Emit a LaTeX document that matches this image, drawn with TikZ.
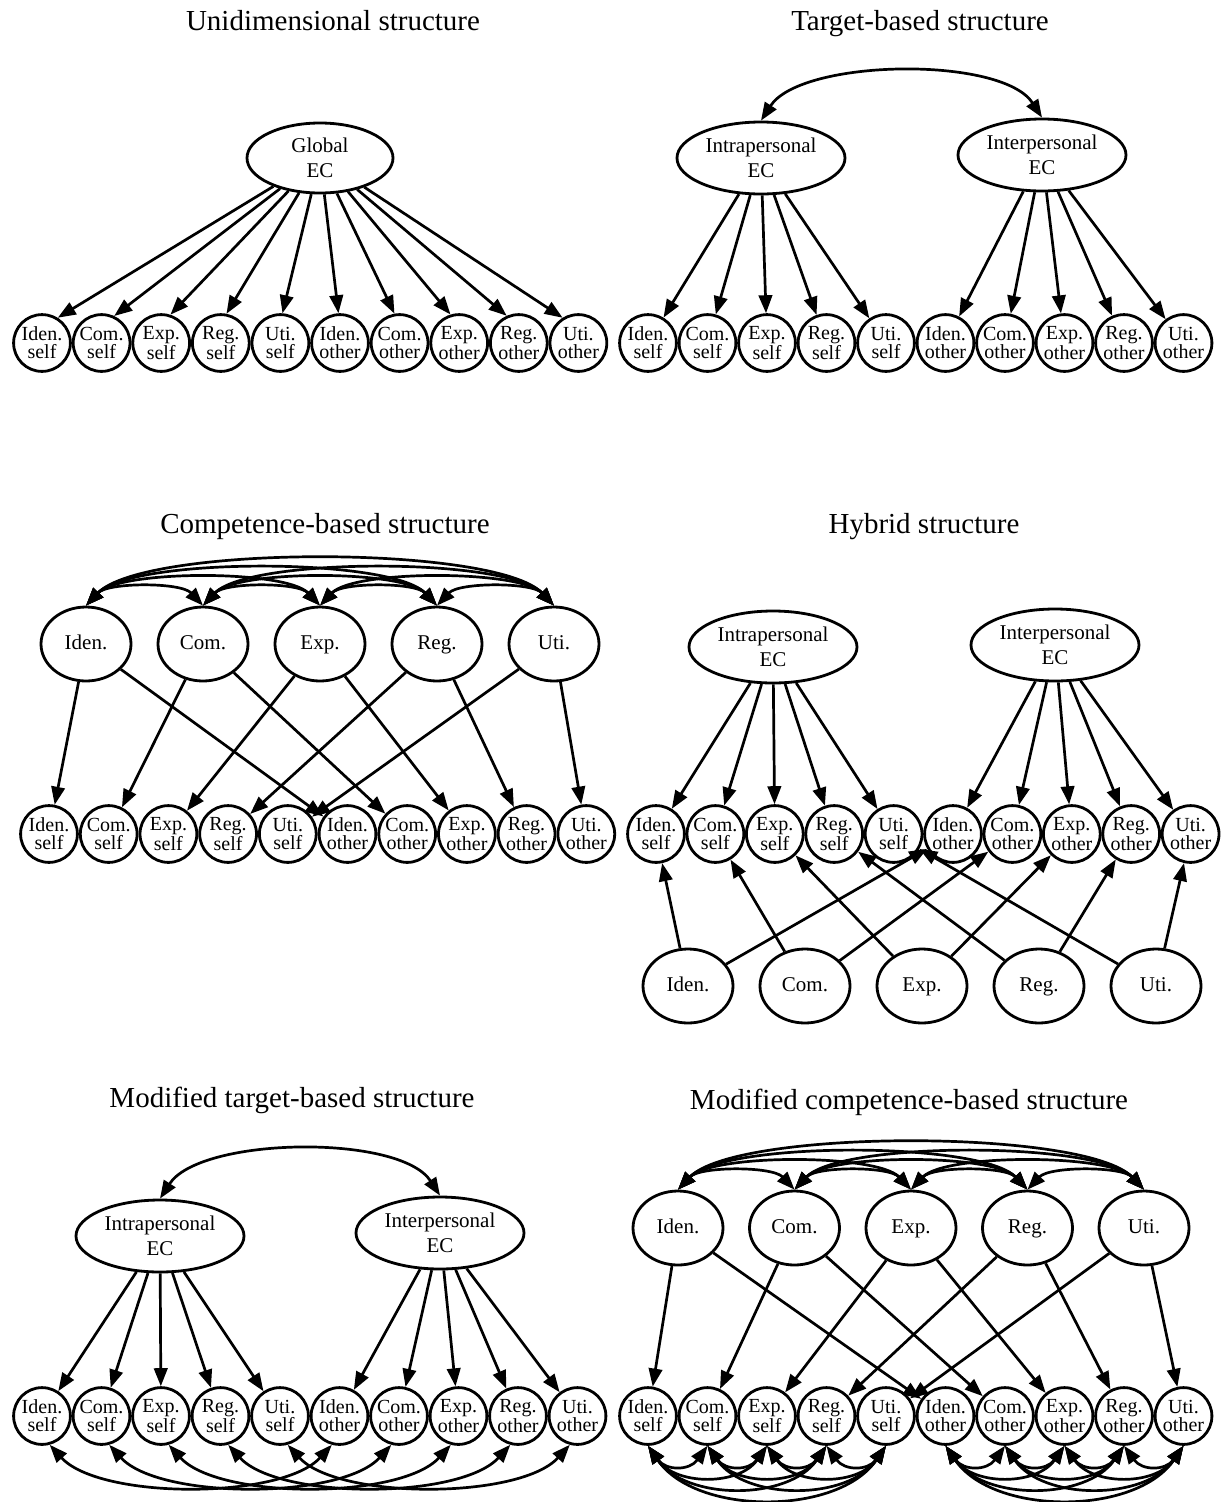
\documentclass[tikz,border=0pt]{standalone}
\usepackage{fontspec}
\setmainfont{Liberation Serif}
\usetikzlibrary{arrows.meta,shapes.geometric,calc}

\newcommand\ttlfont{\fontsize{29}{34}\selectfont}
\newcommand\latfont{\fontsize{21}{25}\selectfont}
\newcommand\indfont{\fontsize{20}{18}\selectfont}

% a row of ten indicators: five "self" then five "other"
\newcommand\indrow[4]{% #1 prefix, #2 first x, #3 y, #4 step
  \foreach \lab [count=\i] in {Iden.,Com.,Exp.,Reg.,Uti.}{%
    \node[ind] (#1s\i) at ({#2+(\i-1)*#4},#3) {\lab\\self};
    \node[ind] (#1o\i) at ({#2+(\i+4)*#4},#3) {\lab\\other};
  }}

% covariances between every pair of five factors, above them
\newcommand\covarcs[1]{%
  \foreach \i in {1,...,4}{%
    \pgfmathtruncatemacro\ia{\i+1}%
    \foreach \j in {\ia,...,5}{%
      \pgfmathsetmacro\hh{11+12.5*(\j-\i)}%
      \pgfmathsetmacro\dd{10+12*(\j-\i)}%
      \draw[cov] (#1\i.north) .. controls +(\dd,-\hh) and +(-\dd,-\hh) .. (#1\j.north);
    }}}

% residual covariances between every pair of five indicators, below them
\newcommand\botarcs[1]{%
  \foreach \i in {1,...,4}{%
    \pgfmathtruncatemacro\ia{\i+1}%
    \foreach \j in {\ia,...,5}{%
      \pgfmathsetmacro\hh{10+15*(\j-\i)}%
      \pgfmathsetmacro\dd{8+10*(\j-\i)}%
      \draw[cov] (#1\i.south) .. controls +(\dd,\hh) and +(-\dd,\hh) .. (#1\j.south);
    }}}

\begin{document}
\begin{tikzpicture}[x=1pt,y=-1pt,
  ttl/.style={font=\ttlfont, inner sep=0pt, anchor=base},
  oval/.style={ellipse, draw, line width=2.8pt, inner sep=0pt, font=\latfont},
  lat/.style={oval, minimum width=90pt, minimum height=74pt, text height=14pt, text depth=4pt},
  big/.style={oval, minimum width=168pt, minimum height=72pt, align=center},
  ind/.style={circle, draw, line width=2.8pt, minimum size=56.8pt, inner sep=0pt, align=center, font=\indfont},
  arr/.style={line width=2.7pt, -{Triangle[length=18pt,width=13.5pt]}},
  cov/.style={line width=2.7pt, {Triangle[length=18pt,width=13.5pt]}-{Triangle[length=18pt,width=13.5pt]}},
]
\useasboundingbox (0,0) rectangle (1230,1502);

% ---------- Unidimensional structure ----------
\node[ttl] (t1) at (333,30) {Unidimensional structure};
\node[big, minimum width=146pt, minimum height=70pt] (G) at (320,158) {Global\\EC};
\indrow{a}{42}{343}{59.6}
\foreach \i in {1,...,5}{%
  \pgfmathtruncatemacro\angs{58+64*(\i-1)/9}%
  \pgfmathtruncatemacro\ango{58+64*(\i+4)/9}%
  \draw[arr] (G) -- (as\i.\angs);
  \draw[arr] (G) -- (ao\i.\ango);
}

% ---------- Target-based structure ----------
\node[ttl] (t2) at (920,30) {Target-based structure};
\node[big] (b1) at (761,158) {Intrapersonal\\EC};
\node[big] (b2) at (1042,155) {Interpersonal\\EC};
\indrow{b}{648}{343}{59.5}
\foreach \i in {1,...,5}{%
  \draw[arr] (b1) -- (bs\i);
  \draw[arr] (b2) -- (bo\i);
}
\draw[cov] (b1.north) .. controls +(40,-62) and +(-40,-62) .. (b2.north);

% ---------- Competence-based structure ----------
\node[ttl] (t3) at (325,533) {Competence-based structure};
\foreach \lab [count=\i] in {Iden.,Com.,Exp.,Reg.,Uti.}{%
  \node[lat] (c\i) at ({86+117*(\i-1)},644) {\lab};
}
\indrow{c}{49}{834}{59.7}
\foreach \i in {1,...,5}{%
  \draw[arr] (c\i) -- (cs\i);
  \draw[arr] (c\i) -- (co\i);
}
\covarcs{c}

% ---------- Hybrid structure ----------
\node[ttl] (t4) at (924,533) {Hybrid structure};
\node[big] (d1) at (773,647) {Intrapersonal\\EC};
\node[big] (d2) at (1055,645) {Interpersonal\\EC};
\indrow{d}{656}{834}{59.4}
\foreach \lab [count=\i] in {Iden.,Com.,Exp.,Reg.,Uti.}{%
  \node[lat] (e\i) at ({688+117*(\i-1)},986) {\lab};
}
\foreach \i in {1,...,5}{%
  \draw[arr] (d1) -- (ds\i);
  \draw[arr] (d2) -- (do\i);
  \draw[arr] (e\i) -- (ds\i);
  \draw[arr] (e\i) -- (do\i);
}

% ---------- Modified target-based structure ----------
\node[ttl] (t5) at (292,1107) {Modified target-based structure};
\node[big] (f1) at (160,1236) {Intrapersonal\\EC};
\node[big] (f2) at (440,1233) {Interpersonal\\EC};
\indrow{f}{42}{1416}{59.5}
\foreach \i in {1,...,5}{%
  \draw[arr] (f1) -- (fs\i);
  \draw[arr] (f2) -- (fo\i);
  \draw[cov] (fs\i.-75) .. controls +(50,55) and +(-50,55) .. (fo\i.-105);
}
\draw[cov] (f1.north) .. controls +(40,-62) and +(-40,-62) .. (f2.north);

% ---------- Modified competence-based structure ----------
\node[ttl] (t6) at (909,1109) {Modified competence-based structure};
\foreach \lab [count=\i] in {Iden.,Com.,Exp.,Reg.,Uti.}{%
  \node[lat] (m\i) at ({678+116.5*(\i-1)},1228) {\lab};
}
\indrow{m}{648}{1416}{59.5}
\foreach \i in {1,...,5}{%
  \draw[arr] (m\i) -- (ms\i);
  \draw[arr] (m\i) -- (mo\i);
}
\covarcs{m}
\botarcs{ms}
\botarcs{mo}

\end{tikzpicture}
\end{document}
